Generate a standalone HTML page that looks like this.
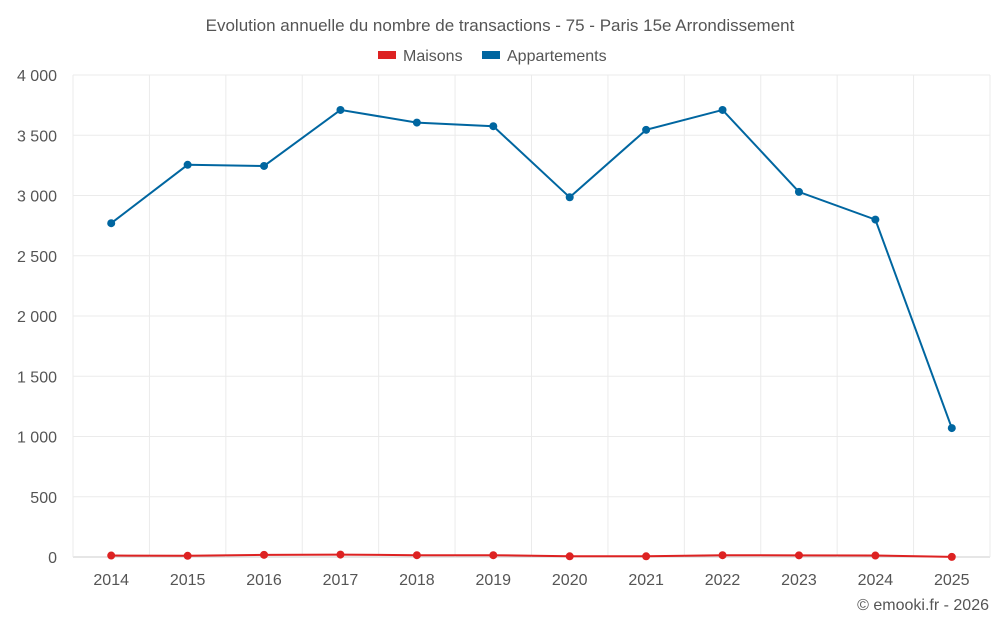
<!DOCTYPE html>
<html><head><meta charset="utf-8"><style>
body{margin:0;background:#fff;font-family:"Liberation Sans",sans-serif;}
svg text{font-family:"Liberation Sans",sans-serif;}
</style></head><body>
<svg id="chart" width="1000" height="625">
<text x="500" y="31" text-anchor="middle" font-size="17" fill="#555">Evolution annuelle du nombre de transactions - 75 - Paris 15e Arrondissement</text>
<g>
<g><rect x="378" y="51" width="18" height="8" fill="#dd2222"/><text x="403" y="61" font-size="16" fill="#555">Maisons</text></g>
<g><rect x="482" y="51" width="18" height="8" fill="#0066a0"/><text x="507" y="61" font-size="16" fill="#555">Appartements</text></g>
</g>
<g id="grid"></g><g id="axes"></g><g id="series"></g>
<text x="989" y="610" text-anchor="end" font-size="16" fill="#555">© emooki.fr - 2026</text>
</svg>
<script>
const categories=["2014","2015","2016","2017","2018","2019","2020","2021","2022","2023","2024","2025"];
const appartements=[2770,3255,3245,3710,3605,3575,2985,3545,3710,3030,2800,1070];
const maisons=[12,10,18,20,15,15,6,6,15,14,12,1];
const yTicks=[0,500,1000,1500,2000,2500,3000,3500,4000];
const yTickLabels=["0","500","1 000","1 500","2 000","2 500","3 000","3 500","4 000"];
const L=73,R=990,T=75,B=557,ymax=4000;
const bw=(R-L)/categories.length;
const x=i=>L+bw*(i+0.5);
const y=v=>B-(B-T)*v/ymax;
const NS="http://www.w3.org/2000/svg";
function mk(tag,attrs,parent){const e=document.createElementNS(NS,tag);for(const k in attrs)e.setAttribute(k,attrs[k]);document.getElementById(parent).appendChild(e);return e;}
yTicks.forEach((t,i)=>{
 const g=mk("line",{x1:L,x2:R,y1:y(t),y2:y(t),stroke:i==0?"#ccc":"#ebebeb","stroke-width":1},"grid");
 
 
 const tx=mk("text",{x:57,y:y(t)+6,"text-anchor":"end","font-size":16,fill:"#555"},"axes");
 tx.textContent=yTickLabels[i];
 
 
});
for(let i=0;i<=categories.length;i++){
 const g=mk("line",{x1:L+bw*i,x2:L+bw*i,y1:T,y2:B,stroke:"#ebebeb","stroke-width":1},"grid");
 
 
}
categories.forEach((c,i)=>{
 const tx=mk("text",{x:x(i),y:585,"text-anchor":"middle","font-size":16,fill:"#555"},"axes");
 tx.textContent=c;
 
 
});
function series(vals,color,name){
 const p=mk("polyline",{points:vals.map((v,i)=>x(i)+","+y(v)).join(" "),fill:"none",stroke:color,"stroke-width":2},"series");
 
 
 vals.forEach((v,i)=>{
  const c=mk("circle",{cx:x(i),cy:y(v),r:4,fill:color},"series");
  
  
 });
}
series(maisons,"#dd2222","maisons");
series(appartements,"#0066a0","appartements");
</script>
</body></html>
